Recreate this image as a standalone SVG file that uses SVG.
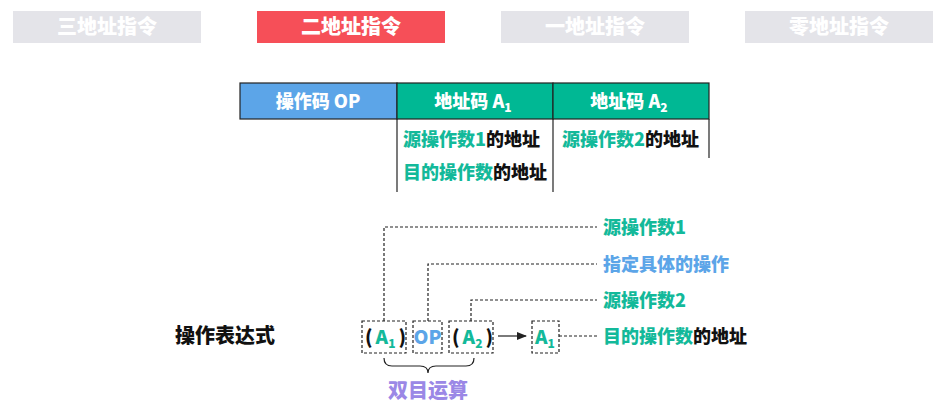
<svg xmlns="http://www.w3.org/2000/svg" width="946" height="419" viewBox="0 0 946 419">
<defs>
<style>
text{font-family:"Noto Sans CJK SC","Noto Sans",sans-serif;font-weight:900;}
.tab{font-size:20px;fill:#ffffff;text-anchor:middle;}
.hdr{font-size:18px;fill:#ffffff;text-anchor:middle;}
.body{font-size:18px;fill:#111111;}
.lbl{font-size:18px;}
.g{fill:#13b99a;}
.b{fill:#5ca5e8;}
.k{fill:#111111;}
.dash{fill:none;stroke:#222222;stroke-width:1.2;stroke-dasharray:3 2;}
.solid{fill:none;stroke:#222222;stroke-width:1.2;}
.box{fill:#ffffff;stroke:#222222;stroke-width:1.2;stroke-dasharray:3 2;}
.bx{font-size:19px;}
.sub{font-size:12px;}
</style>
<marker id="arr" markerWidth="10" markerHeight="8" refX="9" refY="4" orient="auto" markerUnits="userSpaceOnUse">
<path d="M0,0 L10,4 L0,8 Z" fill="#222222"/>
</marker>
</defs>
<rect width="946" height="419" fill="#ffffff"/>

<g id="tab1"><rect x="13" y="11" width="188" height="32" fill="#e4e4e9"/><text class="tab" x="107" y="34">三地址指令</text></g>
<g id="tab2"><rect x="257" y="11" width="188" height="32" fill="#f64f58"/><text class="tab" x="351" y="34">二地址指令</text></g>
<g id="tab3"><rect x="501" y="11" width="188" height="32" fill="#e4e4e9"/><text class="tab" x="595" y="34">一地址指令</text></g>
<g id="tab4"><rect x="745" y="11" width="188" height="32" fill="#e4e4e9"/><text class="tab" x="839" y="34">零地址指令</text></g>

<g id="table">
<rect x="240" y="83" width="157" height="36" fill="#5ca5e8" stroke="#222" stroke-width="1.2"/>
<rect x="397" y="83" width="156" height="36" fill="#00b894" stroke="#222" stroke-width="1.2"/>
<rect x="553" y="83" width="156" height="36" fill="#00b894" stroke="#222" stroke-width="1.2"/>
<text class="hdr" x="318" y="108">操作码 OP</text>
<text class="hdr" x="473" y="108">地址码 A<tspan class="sub" dy="4">1</tspan></text>
<text class="hdr" x="629" y="108">地址码 A<tspan class="sub" dy="4">2</tspan></text>
<line class="solid" x1="397" y1="119" x2="397" y2="192"/>
<line class="solid" x1="553" y1="119" x2="553" y2="192"/>
<line class="solid" x1="709" y1="119" x2="709" y2="158"/>
<text class="body" x="403" y="146"><tspan class="g">源操作数1</tspan>的地址</text>
<text class="body" x="403" y="179"><tspan class="g">目的操作数</tspan>的地址</text>
<text class="body" x="562" y="146"><tspan class="g">源操作数2</tspan>的地址</text>
</g>

<g id="connectors">
<polyline class="dash" points="384,321 384,227 597,227"/>
<polyline class="dash" points="428,321 428,264 597,264"/>
<polyline class="dash" points="471,321 471,300 597,300"/>
<line class="dash" x1="559" y1="336" x2="597" y2="336"/>
<line class="solid" x1="498" y1="336" x2="526" y2="336" marker-end="url(#arr)"/>
<path class="solid" d="M384,358 Q384,366 392,366 L420,366 Q428,366 428,373 Q428,366 436,366 L466,366 Q474,366 474,358"/>
</g>

<text x="175" y="343" style="font-size:20px;fill:#111">操作表达式</text>

<g id="boxA1"><rect class="box" x="362" y="321" width="44" height="32"/><text class="bx" x="365" y="344"><tspan class="k">(</tspan><tspan class="g" dx="3">A</tspan><tspan class="g sub" dy="4">1</tspan><tspan class="k" dx="3" dy="-4">)</tspan></text></g>
<g id="boxOP"><rect class="box" x="413" y="321" width="29" height="32"/><text class="bx b" x="427.5" y="344" text-anchor="middle">OP</text></g>
<g id="boxA2"><rect class="box" x="449" y="321" width="44" height="32"/><text class="bx" x="452" y="344"><tspan class="k">(</tspan><tspan class="g" dx="3">A</tspan><tspan class="g sub" dy="4">2</tspan><tspan class="k" dx="3" dy="-4">)</tspan></text></g>
<g id="boxRes"><rect class="box" x="532" y="321" width="27" height="32"/><text class="bx" x="535" y="344"><tspan class="g">A</tspan><tspan class="g sub" dy="4">1</tspan></text></g>

<g id="labels">
<text x="603" y="234" class="lbl g">源操作数1</text>
<text x="603" y="271" class="lbl b">指定具体的操作</text>
<text x="603" y="307" class="lbl g">源操作数2</text>
<text x="603" y="343" class="lbl"><tspan class="g">目的操作数</tspan><tspan class="k">的地址</tspan></text>
<text x="428" y="398" style="font-size:20px;fill:#9b88e6" text-anchor="middle">双目运算</text>
</g>
</svg>
